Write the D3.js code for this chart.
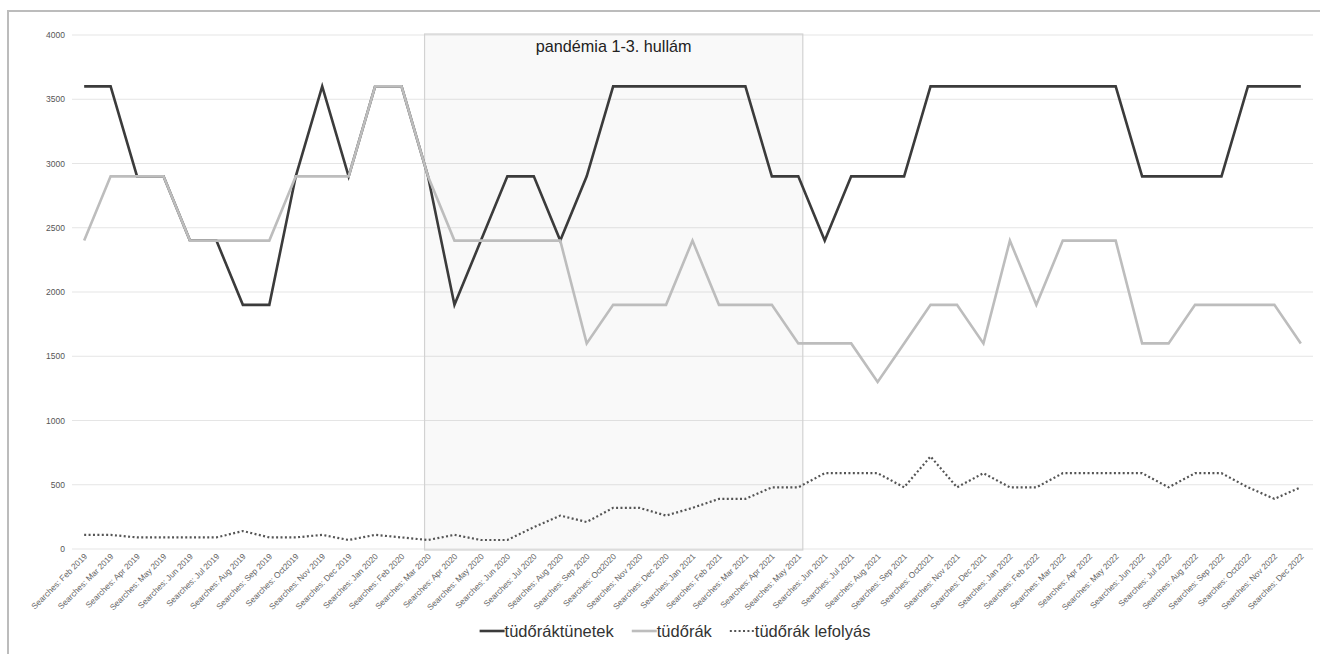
<!DOCTYPE html>
<html>
<head>
<meta charset="utf-8">
<script src="https://cdn.jsdelivr.net/npm/d3@7"></script>
<style>
  html, body { margin: 0; padding: 0; background: #fff; }
  svg { display: block; font-family: "Liberation Sans", Arial, Helvetica, sans-serif; }
</style>
</head>
<body>
<svg id="chart" width="1320" height="654"></svg>
<script>
// ---- data ----
const months = [
  "Searches: Feb 2019","Searches: Mar 2019","Searches: Apr 2019","Searches: May 2019","Searches: Jun 2019",
  "Searches: Jul 2019","Searches: Aug 2019","Searches: Sep 2019","Searches: Oct2019","Searches: Nov 2019",
  "Searches: Dec 2019","Searches: Jan 2020","Searches: Feb 2020","Searches: Mar 2020","Searches: Apr 2020",
  "Searches: May 2020","Searches: Jun 2020","Searches: Jul 2020","Searches: Aug 2020","Searches: Sep 2020",
  "Searches: Oct2020","Searches: Nov 2020","Searches: Dec 2020","Searches: Jan 2021","Searches: Feb 2021",
  "Searches: Mar 2021","Searches: Apr 2021","Searches: May 2021","Searches: Jun 2021","Searches: Jul 2021",
  "Searches: Aug 2021","Searches: Sep 2021","Searches: Oct2021","Searches: Nov 2021","Searches: Dec 2021",
  "Searches: Jan 2022","Searches: Feb 2022","Searches: Mar 2022","Searches: Apr 2022","Searches: May 2022",
  "Searches: Jun 2022","Searches: Jul 2022","Searches: Aug 2022","Searches: Sep 2022","Searches: Oct2022",
  "Searches: Nov 2022","Searches: Dec 2022"
];
const tunetek = [
  3600,3600,2900,2900,2400,2400,1900,1900,2900,3600,
  2900,3600,3600,2900,1900,2400,2900,2900,2400,2900,
  3600,3600,3600,3600,3600,3600,2900,2900,2400,2900,
  2900,2900,3600,3600,3600,3600,3600,3600,3600,3600,
  2900,2900,2900,2900,3600,3600,3600
];
const tudorak = [
  2400,2900,2900,2900,2400,2400,2400,2400,2900,2900,
  2900,3600,3600,2900,2400,2400,2400,2400,2400,1600,
  1900,1900,1900,2400,1900,1900,1900,1600,1600,1600,
  1300,1600,1900,1900,1600,2400,1900,2400,2400,2400,
  1600,1600,1900,1900,1900,1900,1600
];
const lefolyas = [
  110,110,90,90,90,90,140,90,90,110,
  70,110,90,70,110,70,70,170,260,210,
  320,320,260,320,390,390,480,480,590,590,
  590,480,720,480,590,480,480,590,590,590,
  590,480,590,590,480,390,480
];
const yTicks = [0,500,1000,1500,2000,2500,3000,3500,4000];
const seriesNames = ["tüdőráktünetek","tüdőrák","tüdőrák lefolyás"];
const shadeLabel = "pandémia 1-3. hullám";
const shadeFrom = 12.87, shadeTo = 27.17; // month-index positions of the highlighted band

// ---- layout ----
const svg = d3.select("#chart");
const plot = { left: 72, right: 1313, top: 35, bottom: 549 };

const x = d3.scalePoint().domain(months).range([plot.left, plot.right]).padding(0.46);
const xi = d3.scaleLinear().domain([0, months.length - 1])
  .range([x(months[0]), x(months[months.length - 1])]);
const y = d3.scaleLinear().domain([0, 4000]).range([plot.bottom, plot.top]);

// outer frame (top + left visible)
svg.append("rect").attr("x", 8).attr("y", 11).attr("width", 1340).attr("height", 700)
  .attr("fill", "none").attr("stroke", "#bcbcbc").attr("stroke-width", 2);

// gridlines
svg.append("g").selectAll("line").data(yTicks).join("line")
  .attr("x1", plot.left).attr("x2", plot.right)
  .attr("y1", d => y(d)).attr("y2", d => y(d))
  .attr("stroke", "#e5e5e5").attr("stroke-width", 1);

// y axis labels
const yAxis = d3.axisLeft(y).tickValues(yTicks).tickSize(0).tickPadding(0).tickFormat(d3.format("d"));
const yg = svg.append("g").attr("transform", `translate(${plot.left - 7},0)`).call(yAxis);
yg.select(".domain").remove();
yg.selectAll("text").attr("font-size", 8.5).attr("fill", "#555")
  .attr("font-family", "'Liberation Sans', Arial, sans-serif");

// x axis labels
const xAxis = d3.axisBottom(x).tickSize(0).tickPadding(0);
const xg = svg.append("g").attr("transform", `translate(0,${plot.bottom})`).call(xAxis);
xg.select(".domain").remove();
xg.selectAll("text")
  .attr("font-size", 8.3).attr("fill", "#666")
  .attr("font-family", "'Liberation Sans', Arial, sans-serif")
  .attr("text-anchor", "end")
  .attr("dy", null).attr("y", 0)
  .attr("transform", "translate(3,8) rotate(-45)");

// shaded band
const band = svg.append("g");
band.append("rect")
  .attr("x", xi(shadeFrom)).attr("width", xi(shadeTo) - xi(shadeFrom))
  .attr("y", y(4000) - 1).attr("height", y(0) - y(4000) + 2)
  .attr("fill", "rgba(0,0,0,0.022)").attr("stroke", "#d2d2d2").attr("stroke-width", 1.2);
band.append("text")
  .attr("x", (xi(shadeFrom) + xi(shadeTo)) / 2).attr("y", 51.5)
  .attr("text-anchor", "middle").attr("font-size", 16.2).attr("fill", "#222")
  .text(shadeLabel);

// lines
const line = d3.line().x((d, i) => x(months[i])).y(d => y(d));
svg.append("path").datum(tunetek).attr("d", line)
  .attr("fill", "none").attr("stroke", "#3b3b3b").attr("stroke-width", 2.6)
  .attr("stroke-linejoin", "miter");
svg.append("path").datum(tudorak).attr("d", line)
  .attr("fill", "none").attr("stroke", "#bdbdbd").attr("stroke-width", 2.6)
  .attr("stroke-linejoin", "miter");
svg.append("path").datum(lefolyas).attr("d", line)
  .attr("fill", "none").attr("stroke", "#555").attr("stroke-width", 2.2)
  .attr("stroke-dasharray", "2 2.4");

// legend
const legendStyles = [
  { stroke: "#3b3b3b", dash: null, w: 2.6 },
  { stroke: "#bdbdbd", dash: null, w: 2.6 },
  { stroke: "#555", dash: "2 2.4", w: 2.2 }
];
const lg = svg.append("g");
let cx = 0;
seriesNames.forEach((name, i) => {
  const g = lg.append("g");
  g.append("line").attr("x1", 0).attr("x2", 25).attr("y1", 0).attr("y2", 0)
    .attr("stroke", legendStyles[i].stroke).attr("stroke-width", legendStyles[i].w)
    .attr("stroke-dasharray", legendStyles[i].dash);
  const t = g.append("text").attr("x", 25).attr("y", 5.8).attr("font-size", 16.5)
    .attr("fill", "#333").text(name);
  const tw = t.node().getComputedTextLength();
  g.attr("transform", `translate(${cx},0)`);
  cx += 25 + tw + 18;
});
const totalW = cx - 18;
lg.attr("transform", `translate(${675 - totalW / 2},631)`);
</script>
</body>
</html>
